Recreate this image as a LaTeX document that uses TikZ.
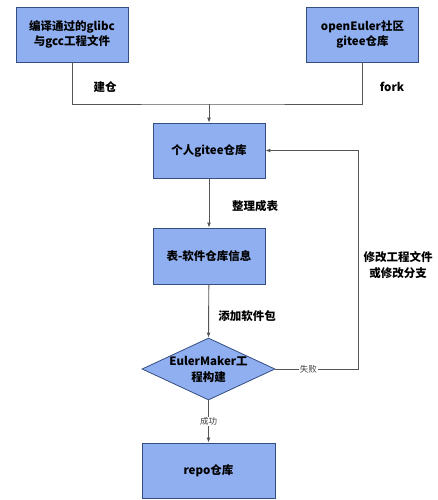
\documentclass[tikz,border=0pt]{standalone}
\usepackage{fontspec}
\setmainfont{Noto Sans CJK SC}
\usepackage{xcolor}
\usepackage{tikz}
\usetikzlibrary{arrows.meta,shapes.geometric}

\definecolor{boxfill}{RGB}{143,175,240}
\definecolor{boxline}{RGB}{52,78,130}
\definecolor{wire}{RGB}{85,85,85}

\begin{document}
\begin{tikzpicture}[
  x=1pt, y=-1pt,
  box/.style={draw=boxline, fill=boxfill, line width=0.8pt, minimum width=112pt, minimum height=55pt, align=center, font=\fontsize{11.5}{15}\selectfont\bfseries},
  wide/.style={box, minimum width=133pt},
  decision/.style={diamond, draw=boxline, fill=boxfill, line width=0.8pt, inner sep=0pt, minimum width=133pt, minimum height=62pt},
  flow/.style={draw=wire, line width=0.9pt, -{Latex[length=5pt,width=4pt]}},
  wire/.style={draw=wire, line width=0.9pt},
  note/.style={font=\fontsize{11.5}{16}\selectfont\bfseries, align=center},
  tag/.style={font=\fontsize{8.5}{10}\selectfont, fill=white, inner sep=1pt, text=black!75}
]
  \useasboundingbox (0,0) rectangle (438,500);

  \node[box] (glibc) at (72,34.5) {编译通过的glibc\\与gcc工程文件};
  \node[box] (upstream) at (362.5,34.5) {openEuler社区\\gitee仓库};
  \node[box] (personal) at (209,150.5) {个人gitee仓库};
  \node[box, minimum height=56pt] (table) at (209,256) {表-软件仓库信息};
  \node[decision] (build) at (208.5,369) {};
  \node[note] (buildtext) at (build) {EulerMaker工\\程构建};
  \node[wide] (repo) at (208.5,470.5) {repo仓库};

  \coordinate (join) at (209,104);
  \coordinate (back) at (358,369);

  % two sources meet above the personal repo
  \draw[wire] (glibc.south) |- (join) -| (upstream.south);
  \draw[flow] (join) -- (personal.north);
  \node[note] (jiancang) at (105,87) {建仓};
  \node[note] (forklabel) at (392,87) {fork};

  \draw[flow] (personal) -- (table);
  \node[note] (sortlabel) at (255,206) {整理成表};
  \draw[flow] (table) -- (build.north);
  \node[note] (addlabel) at (247,316) {添加软件包};
  \draw[flow] (build.south) -- node[tag] {成功} (repo.north);

  % failure loops back
  \draw[flow] (build.east) -- node[tag, pos=0.4] {失败} (back) |- (personal.east);
  \node[note] (fixlabel) at (398,265) {修改工程文件\\或修改分支};
\end{tikzpicture}
\end{document}
